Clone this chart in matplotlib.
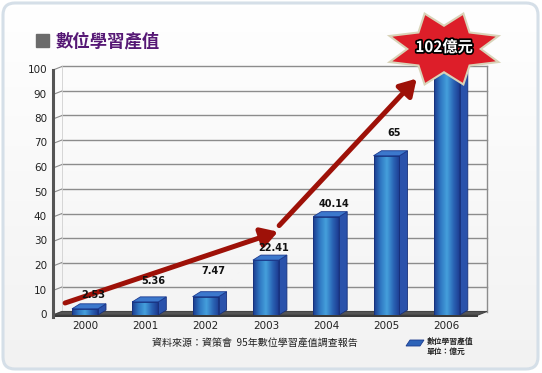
import numpy as np
import matplotlib
matplotlib.use("Agg")
import matplotlib.pyplot as plt
from matplotlib.patches import Polygon, FancyBboxPatch
from matplotlib.colors import LinearSegmentedColormap
import matplotlib.patheffects as pe

years = ["2000", "2001", "2002", "2003", "2004", "2005", "2006"]
values = [2.53, 5.36, 7.47, 22.41, 40.14, 65, 102]
value_labels = ["2.53", "5.36", "7.47", "22.41", "40.14", "65", ""]
label_pad = [9, 16, 21, 7, 8, 18, 0]  # px above bar top
yticks = [0, 10, 20, 30, 40, 50, 60, 70, 80, 90, 100]
trend_arrows = [((-0.33, 4.9), (3.2, 34.0)), ((3.22, 36.5), (5.5, 96.5))]

CJK = ["Noto Sans CJK TC", "DejaVu Sans"]
W, H = 542, 373
fig = plt.figure(figsize=(W / 100, H / 100), dpi=100)

# background card
bg = fig.add_axes([0, 0, 1, 1], zorder=-2)
bg.set_xlim(0, W)
bg.set_ylim(H, 0)
bg.axis("off")
card = FancyBboxPatch((3, 3), W - 7, H - 7, boxstyle="round,pad=0,rounding_size=12",
                      fc="none", ec="#d5dfe8", lw=2.2, zorder=-3)
bg.add_patch(card)
grad = np.linspace(0, 1, 100).reshape(-1, 1)
bg_cmap = LinearSegmentedColormap.from_list("bg", ["#ffffff", "#f2f2f2"])
im = bg.imshow(grad, extent=[3, W - 4, H - 4, 3], cmap=bg_cmap, aspect="auto", zorder=-4)
im.set_clip_path(card)

# title
bg.add_patch(plt.Rectangle((36, 34), 13, 13, color="#6b6b6b"))
bg.text(56, 41, "數位學習產值", family=CJK, fontsize=12.5, fontweight="heavy",
        color="#561875", va="center", ha="left")

# main chart axes
px_x, px_y = 60.3, 2.45
x0_px, x1_px, y0_px, y1_px = 53, 478, 315, 70
ax = fig.add_axes([x0_px / W, (H - y0_px) / H, (x1_px - x0_px) / W, (y0_px - y1_px) / H])
xmin = (x0_px - 85) / px_x
xmax = (x1_px - 85) / px_x
ax.set_facecolor("none")
ax.axis("off")

wdx, wdy = 9 / px_x, 3.5 / px_y
bdx, bdy = 8 / px_x, 5 / px_y
bw = 26 / px_x

# floor
ax.add_patch(Polygon([(xmin, 0), (xmax, 0), (xmax + wdx, wdy), (xmin + wdx, wdy)],
                     closed=True, fc="#555555", ec="#444444", lw=0.8, zorder=1, clip_on=False))
floor_front = [(xmin, 0), (xmax, 0), (xmax, -0.9), (xmin, -0.9)]
ax.add_patch(Polygon(floor_front, closed=True, fc="#3a3a3a", ec="none", zorder=1, clip_on=False))

# wall grid
for t in yticks[1:]:
    ax.plot([xmin + wdx, xmax + wdx], [t + wdy, t + wdy], color="#8c8c8c", lw=1, zorder=0.5,
            clip_on=False)
for t in yticks:
    ax.plot([xmin, xmin + wdx], [t, t + wdy], color="#8c8c8c", lw=0.8, zorder=0.5, clip_on=False)
    ax.text(xmin - 6 / px_x, t, str(t), ha="right", va="center", fontsize=7.5, color="#222222")
ax.plot([xmax + wdx, xmax + wdx], [wdy, 100 + wdy], color="#8c8c8c", lw=1, zorder=0.5, clip_on=False)
ax.plot([xmin + wdx, xmin + wdx], [wdy, 100 + wdy], color="#d0d0d0", lw=0.6, zorder=0.5, clip_on=False)
ax.plot([xmin, xmin], [-0.9, 100], color="#555555", lw=2.2, zorder=2, clip_on=False)

# bars
front_cmap = LinearSegmentedColormap.from_list(
    "front", ["#1b3b8e", "#2f77c2", "#45a0dc", "#2b66b6", "#1c3a90"])
hgrad = np.linspace(0, 1, 64).reshape(1, -1)
x = np.arange(len(years))
for i, v in enumerate(values):
    l, r = x[i] - bw / 2, x[i] + bw / 2
    ax.imshow(hgrad, extent=[l, r, 0, v], cmap=front_cmap, aspect="auto", zorder=3)
    ax.add_patch(Polygon([(l, 0), (r, 0), (r, v), (l, v)], closed=True, fc="none",
                         ec="#17307a", lw=0.6, zorder=3.1))
    side = Polygon([(r, 0), (r + bdx, bdy), (r + bdx, v + bdy), (r, v)], closed=True,
                   fc="#2a52ab", ec="#17307a", lw=0.6, zorder=3)
    ax.add_patch(side)
    top = Polygon([(l, v), (r, v), (r + bdx, v + bdy), (l + bdx, v + bdy)], closed=True,
                  fc="#3c78cc", ec="#1c3a90", lw=0.6, zorder=3.2)
    ax.add_patch(top)
    ax.text(x[i], -4.6, years[i], ha="center", va="center", fontsize=7.5, color="#222222")
    if value_labels[i]:
        ax.text(x[i] + 8 / px_x, v + bdy + label_pad[i] / px_y, value_labels[i], ha="center",
                va="center", fontsize=7, fontweight="bold", color="#111111", zorder=6)

# trend arrows
for start, end in trend_arrows:
    ax.annotate("", xy=end, xytext=start, zorder=5,
                arrowprops=dict(arrowstyle="-|>,head_length=0.75,head_width=0.45", lw=3.6,
                                color="#9e1108", shrinkA=0, shrinkB=0, mutation_scale=13),
                annotation_clip=False)

ax.set_xlim(xmin, xmax)
ax.set_ylim(0, 100)

# source note and legend
bg.text(255, 343, "資料來源：資策會  95年數位學習產值調查報告", family=CJK, fontsize=7.2,
        color="#222222", ha="center", va="center")
bg.add_patch(Polygon([(406, 346), (420, 346), (424, 340), (410, 340)], closed=True,
                     fc="#2d63b8", ec="#1b3b8e", lw=0.6))
bg.text(427, 341, "數位學習產值", family=CJK, fontsize=5.6, fontweight="bold", color="#222222",
        va="center", ha="left")
bg.text(427, 351, "單位：億元", family=CJK, fontsize=5.6, fontweight="bold", color="#222222",
        va="center", ha="left")

# star burst
top_ax = fig.add_axes([0, 0, 1, 1], zorder=5)
top_ax.set_xlim(0, W)
top_ax.set_ylim(H, 0)
top_ax.axis("off")
cx, cy = 444, 49
outer = [70, 110, 160, 200, 250, 290, 340, 20]
pts = []
for k, a in enumerate(outer):
    b = a + (outer[(k + 1) % 8] - a) % 360 / 2
    pts.append((cx + 55 * np.cos(np.radians(a)), cy - 36 * np.sin(np.radians(a))))
    pts.append((cx + 35 * np.cos(np.radians(b)), cy - 22 * np.sin(np.radians(b))))
top_ax.add_patch(Polygon(pts, closed=True, fc="#d9d3b8", ec="#d9d3b8", lw=3))
top_ax.add_patch(Polygon(pts, closed=True, fc="#dd1e29", ec="none"))
top_ax.text(cx, cy - 2, "102億元", family=CJK, fontsize=11, fontweight="bold", color="white",
            ha="center", va="center",
            path_effects=[pe.withStroke(linewidth=2.5, foreground="black")])

fig.savefig("out.png", dpi=100)
